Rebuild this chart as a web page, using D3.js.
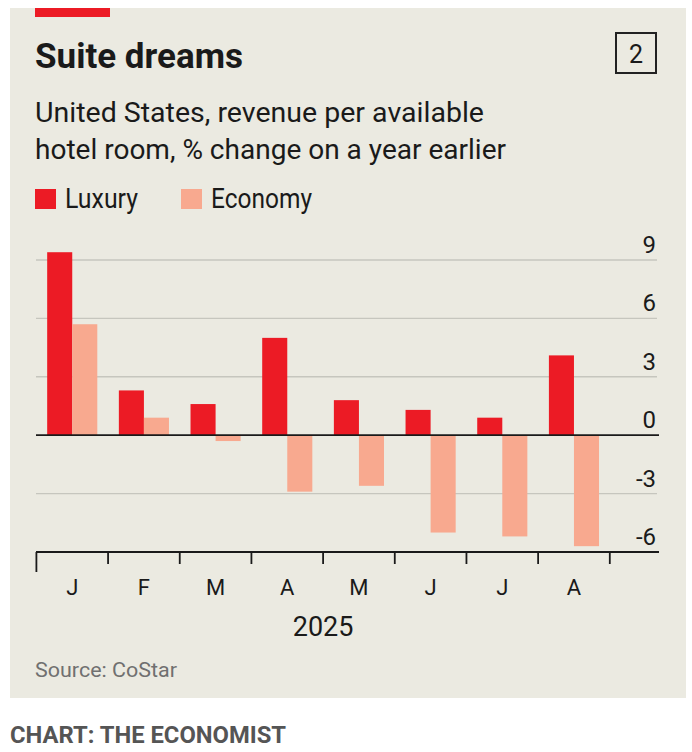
<!DOCTYPE html>
<html>
<head>
<meta charset="utf-8">
<script src="https://cdn.jsdelivr.net/npm/d3@7"></script>
<style>
  html, body { margin: 0; padding: 0; background: #fff; }
  svg { display: block; font-family: Roboto, "Noto Sans", sans-serif; }
</style>
</head>
<body>
<script>
// Values, % change on a year earlier
const monthKeys = ['Jan', 'Feb', 'Mar', 'Apr', 'May', 'Jun', 'Jul', 'Aug'];
const monthLabels = ['J', 'F', 'M', 'A', 'M', 'J', 'J', 'A'];
const luxury = [9.4, 2.3, 1.6, 5.0, 1.8, 1.3, 0.9, 4.1];
const economy = [5.7, 0.9, -0.3, -2.9, -2.6, -5.0, -5.2, -5.7];
const yTicks = [-6, -3, 0, 3, 6, 9];
const seriesNames = ['Luxury', 'Economy'];

const RED = '#ec1b25';
const PINK = '#f8a98f';
const INK = '#1a1a1a';

function drawChart() {
  const width = 692;
  const height = 752;
  const left = 36;
  const right = 657;

  const svg = d3.select('body')
    .append('svg')
    .attr('width', width)
    .attr('height', height);

  // panel background + red tab
  svg.append('rect')
    .attr('x', 10).attr('y', 8)
    .attr('width', 676).attr('height', 690)
    .attr('fill', '#ebeae1');
  svg.append('rect')
    .attr('x', 35).attr('y', 8)
    .attr('width', 75).attr('height', 9)
    .attr('fill', RED);

  // headings
  svg.append('text')
    .attr('x', 35).attr('y', 68)
    .attr('font-size', 35).attr('font-weight', 700)
    .attr('fill', INK)
    .attr('textLength', 208).attr('lengthAdjust', 'spacingAndGlyphs')
    .text('Suite dreams');

  svg.append('rect')
    .attr('x', 616).attr('y', 33)
    .attr('width', 40).attr('height', 40)
    .attr('fill', 'none').attr('stroke', '#222').attr('stroke-width', 2);
  svg.append('text')
    .attr('x', 636).attr('y', 63)
    .attr('text-anchor', 'middle')
    .attr('font-size', 25).attr('fill', INK)
    .text('2');

  const subtitle = [
    {text: 'United States, revenue per available', y: 122, w: 449},
    {text: 'hotel room, % change on a year earlier', y: 159, w: 471}
  ];
  svg.selectAll('.subtitle')
    .data(subtitle)
    .enter()
    .append('text')
    .attr('class', 'subtitle')
    .attr('x', 35)
    .attr('y', d => d.y)
    .attr('font-size', 28)
    .attr('fill', INK)
    .attr('textLength', d => d.w)
    .attr('lengthAdjust', 'spacingAndGlyphs')
    .text(d => d.text);

  // legend
  const legend = [
    {name: seriesNames[0], color: RED, x: 35, w: 73},
    {name: seriesNames[1], color: PINK, x: 181, w: 101}
  ];
  const items = svg.selectAll('.legend')
    .data(legend)
    .enter()
    .append('g')
    .attr('class', 'legend')
    .attr('transform', d => `translate(${d.x},189)`);
  items.append('rect')
    .attr('width', 21).attr('height', 20)
    .attr('fill', d => d.color);
  items.append('text')
    .attr('x', 30).attr('y', 19)
    .attr('font-size', 27).attr('fill', INK)
    .attr('textLength', d => d.w)
    .attr('lengthAdjust', 'spacingAndGlyphs')
    .text(d => d.name);

  // scales
  const x = d3.scaleBand()
    .domain(monthKeys)
    .range([36.4, 609.8])
    .padding(0);

  const xSub = d3.scaleBand()
    .domain(seriesNames)
    .range([0, x.bandwidth()])
    .paddingInner(0)
    .paddingOuter(0.43);

  const y = d3.scaleLinear()
    .domain([-6, 9])
    .range([552, 260]);

  // gridlines and labels
  svg.selectAll('.grid')
    .data(yTicks.filter(t => t !== 0 && t !== -6))
    .enter()
    .append('line')
    .attr('class', 'grid')
    .attr('x1', left).attr('x2', right)
    .attr('y1', d => y(d)).attr('y2', d => y(d))
    .attr('stroke', '#c6c6be')
    .attr('stroke-width', 1.4);

  svg.selectAll('.ylabel')
    .data(yTicks)
    .enter()
    .append('text')
    .attr('class', 'ylabel')
    .attr('x', 656)
    .attr('y', d => y(d) - 7)
    .attr('text-anchor', 'end')
    .attr('font-size', 24)
    .attr('fill', INK)
    .attr('transform', 'scale(1,1)')
    .text(d => d);

  // bars
  const rows = [];
  monthKeys.forEach((m, i) => {
    rows.push({month: m, series: seriesNames[0], value: luxury[i]});
    rows.push({month: m, series: seriesNames[1], value: economy[i]});
  });

  svg.selectAll('.bar')
    .data(rows)
    .enter()
    .append('rect')
    .attr('class', 'bar')
    .attr('x', d => x(d.month) + xSub(d.series))
    .attr('width', xSub.bandwidth())
    .attr('y', d => y(Math.max(0, d.value)))
    .attr('height', d => Math.abs(y(d.value) - y(0)))
    .attr('fill', d => d.series === seriesNames[0] ? RED : PINK);

  // zero line
  svg.append('line')
    .attr('x1', left).attr('x2', 659)
    .attr('y1', y(0)).attr('y2', y(0))
    .attr('stroke', INK).attr('stroke-width', 1.8);

  // bottom axis with ticks at month boundaries
  svg.append('line')
    .attr('x1', left).attr('x2', 659)
    .attr('y1', y(-6)).attr('y2', y(-6))
    .attr('stroke', INK).attr('stroke-width', 1.8);

  const boundaries = monthKeys.map(m => x(m)).concat([x.range()[1]]);
  svg.selectAll('.xtick')
    .data(boundaries)
    .enter()
    .append('line')
    .attr('class', 'xtick')
    .attr('x1', d => d).attr('x2', d => d)
    .attr('y1', y(-6))
    .attr('y2', (d, i) => i === 0 ? y(-6) + 20 : y(-6) + 12)
    .attr('stroke', INK).attr('stroke-width', 1.8);

  svg.selectAll('.xlabel')
    .data(monthKeys)
    .enter()
    .append('text')
    .attr('class', 'xlabel')
    .attr('x', d => x(d) + x.bandwidth() / 2)
    .attr('y', 595)
    .attr('text-anchor', 'middle')
    .attr('font-size', 22)
    .attr('fill', INK)
    .text((d, i) => monthLabels[i]);

  svg.append('text')
    .attr('x', (x.range()[0] + x.range()[1]) / 2)
    .attr('y', 636)
    .attr('text-anchor', 'middle')
    .attr('font-size', 27)
    .attr('fill', INK)
    .text('2025');

  // source + footer
  svg.append('text')
    .attr('x', 35).attr('y', 677)
    .attr('font-size', 20).attr('fill', '#707070')
    .attr('textLength', 142).attr('lengthAdjust', 'spacingAndGlyphs')
    .text('Source: CoStar');

  svg.append('text')
    .attr('x', 10).attr('y', 743)
    .attr('font-size', 24).attr('font-weight', 700)
    .attr('fill', '#555')
    .attr('textLength', 276).attr('lengthAdjust', 'spacingAndGlyphs')
    .text('CHART: THE ECONOMIST');
}

window.onload = drawChart;
</script>
</body>
</html>
